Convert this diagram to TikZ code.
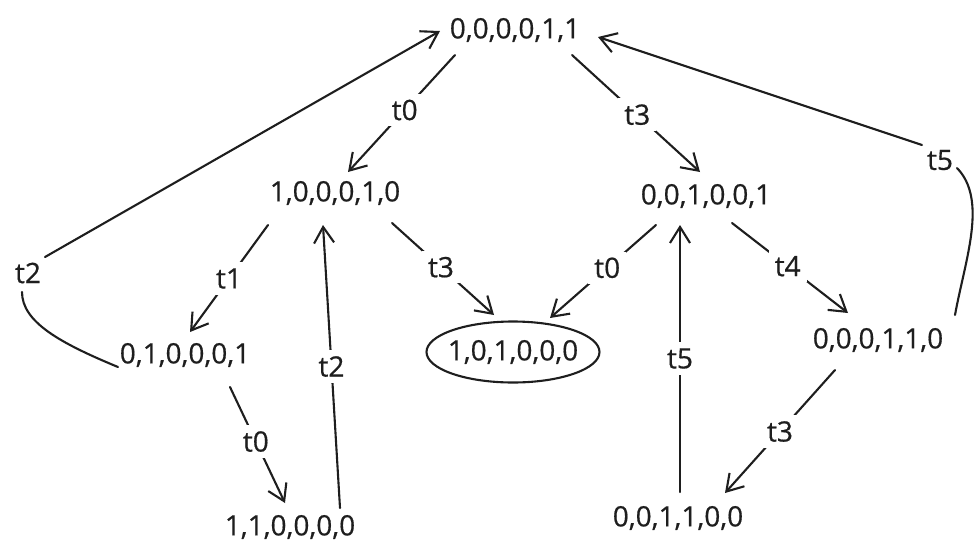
\documentclass[tikz,border=0pt]{standalone}
\usepackage{fontspec}
\setmainfont{Open Sans}[FakeBold=0.6]
\usetikzlibrary{arrows.meta,shapes.geometric}
\definecolor{ink}{HTML}{1E1E1E}
\tikzset{
  state/.style={font=\fontsize{28}{32}\selectfont, text=ink, inner sep=0pt},
  final/.style={state, draw=ink, line width=2.1pt, ellipse, inner xsep=-8pt, minimum width=173pt, minimum height=61pt},
  lbl/.style={font=\fontsize{28}{32}\selectfont, text=ink, fill=white, inner sep=6pt},
  wire/.style={draw=ink, line width=2.1pt, line cap=round},
  arr/.style={wire, -{Straight Barb[length=16pt,width=20pt,line width=2.1pt]}},
}
\begin{document}
\begin{tikzpicture}[x=1pt,y=-1pt]
  \useasboundingbox (0,0) rectangle (977,558);

  % markings
  \node[state] (A) at (515,30)  {0,0,0,0,1,1};
  \node[state] (B) at (335,193) {1,0,0,0,1,0};
  \node[state] (C) at (706,196) {0,0,1,0,0,1};
  \node[state] (D) at (185,355) {0,1,0,0,0,1};
  \node[final] (E) at (513,352) {1,0,1,0,0,0};
  \node[state] (F) at (878,340) {0,0,0,1,1,0};
  \node[state] (G) at (290,527) {1,1,0,0,0,0};
  \node[state] (H) at (678,518) {0,0,1,1,0,0};

  % straight transitions
  \draw[arr] ([shift={(-60,25)}]A.center) -- node[lbl,pos=0.47] {t0} ([shift={(13,-21)}]B.center);
  \draw[arr] ([shift={(57,25)}]A.center) -- node[lbl,pos=0.51] {t3} ([shift={(-6,-24)}]C.center);
  \draw[arr] ([shift={(-67,32)}]B.center) -- node[lbl,pos=0.5] {t1} ([shift={(5,-23)}]D.center);
  \draw[arr] ([shift={(57,30)}]B.center) -- node[lbl,pos=0.48] {t3} ([shift={(-19,-37)}]E.center);
  \draw[arr] ([shift={(50,-19)}]G.center) -- node[lbl,pos=0.5] {t2} ([shift={(-12,32)}]B.center);
  \draw[arr] ([shift={(-50,29)}]C.center) -- node[lbl,pos=0.46] {t0} ([shift={(37,-34)}]E.center);
  \draw[arr] ([shift={(26,27)}]C.center) -- node[lbl,pos=0.48] {t4} ([shift={(-30,-27)}]F.center);
  \draw[arr] ([shift={(2,-26)}]H.center) -- node[lbl,pos=0.5] {t5} ([shift={(-26,29)}]C.center);
  \draw[arr] ([shift={(-43,30)}]F.center) -- node[lbl,pos=0.5] {t3} ([shift={(47,-25)}]H.center);
  \draw[arr] ([shift={(45,32)}]D.center) -- node[lbl,pos=0.47] {t0} ([shift={(-5,-24)}]G.center);

  % return transitions to the initial marking
  \node[lbl,fill=none] (T2) at (28,273) {t2};
  \draw[wire] ([shift={(-67,12)}]D.center) .. controls (60,343) and (22,322) .. ([shift={(-6,19)}]T2.center);
  \draw[arr] ([shift={(17,-16)}]T2.center) -- ([shift={(-75,1)}]A.center);

  \node[lbl,fill=none] (T5) at (940,160) {t5};
  \draw[wire] ([shift={(77,-25)}]F.center) .. controls (965,260) and (988,200) .. ([shift={(17,8)}]T5.center);
  \draw[arr] ([shift={(-18,-15)}]T5.center) -- ([shift={(83,7)}]A.center);
\end{tikzpicture}
\end{document}
